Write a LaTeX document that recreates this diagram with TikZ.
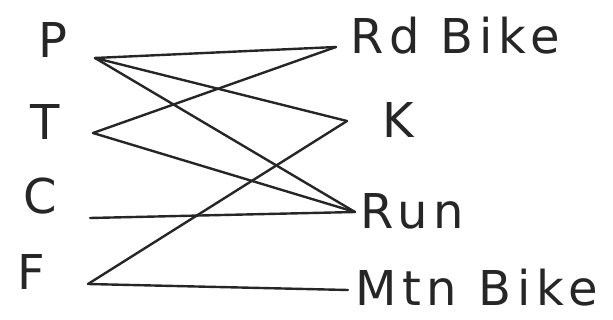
\documentclass[tikz,border=0pt]{standalone}
\usepackage{fontspec}
\setsansfont{DejaVu Sans}
\begin{document}
\begin{tikzpicture}[x=1pt,y=-1pt,
  lbl/.style={font=\sffamily\fontsize{48}{54}\selectfont, inner sep=0pt, text=black!85},
  wide/.style={font=\sffamily\fontsize{48}{54}\selectfont\addfontfeature{LetterSpace=12}},
  edge/.style={draw=black!85, line width=2.4pt, line cap=round, line join=round}]
\useasboundingbox (0,0) rectangle (613,320);
% left labels
\node[lbl] (P) at (53,40) {P};
\node[lbl] (T) at (45,122) {T};
\node[lbl] (C) at (40,196) {C};
\node[lbl] (F) at (31,272) {F};
% right labels
\node[lbl, wide, anchor=west] (Rd) at (350,36) {Rd Bike};
\node[lbl, anchor=west] (K) at (382,120) {K};
\node[lbl, wide, anchor=west] (Run) at (360,211) {Run};
\node[lbl, wide, anchor=west] (Mtn) at (355,288) {Mtn Bike};
% end points
\coordinate (pP) at (95,58);
\coordinate (pT) at (93,133);
\coordinate (pC) at (90,218);
\coordinate (pF) at (88,284);
\coordinate (qRd) at (336,47);
\coordinate (qK) at (347,121);
\coordinate (qRun) at (355,212);
\coordinate (qMtn) at (348,290);
% connectors
\draw[edge] (pP) -- (qRd);
\draw[edge] (pP) -- (qK);
\draw[edge] (pP) -- (qRun);
\draw[edge] (pT) -- (qRd);
\draw[edge] (pT) -- (qRun);
\draw[edge] (pC) -- (qRun);
\draw[edge] (pF) -- (qK);
\draw[edge] (pF) -- (qMtn);
\end{tikzpicture}
\end{document}
